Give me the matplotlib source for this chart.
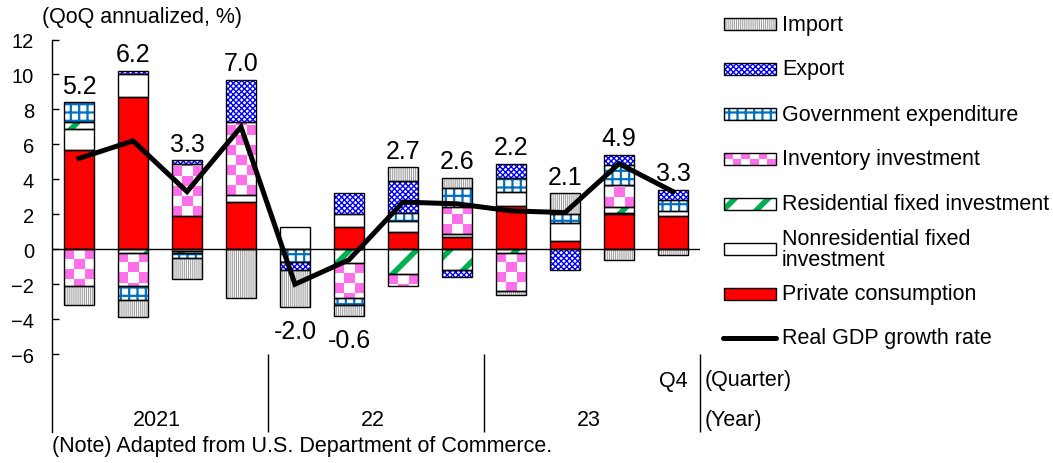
import numpy as np
import matplotlib
matplotlib.use("Agg")
import matplotlib.pyplot as plt
from matplotlib.patches import Rectangle

plt.rcParams["font.family"] = ["Liberation Sans", "DejaVu Sans"]

# contributions to real GDP growth, QoQ annualized (%), 2021Q1 - 2023Q4
years = ["2021", "22", "23"]
quarter_labels = ["", "", "", "", "", "", "", "", "", "", "", "Q4"]
consumption = [5.7, 8.7, 1.9, 2.7, 0.0, 1.3, 1.0, 0.7, 2.5, 0.5, 2.0, 1.9]
nonres_inv = [1.2, 1.3, -0.1, 0.4, 1.3, 0.7, 0.6, 0.2, 0.8, 1.0, 0.1, 0.3]
res_inv = [0.4, -0.2, -0.1, 0.0, 0.0, -0.8, -1.4, -1.2, -0.2, 0.0, 0.3, 0.0]
inventory = [-2.1, -1.9, 3.0, 4.2, 0.0, -2.0, -0.7, 1.5, -2.2, 0.0, 1.3, 0.0]
government = [1.1, -0.8, -0.3, 0.0, -0.7, -0.4, 0.5, 1.1, 0.8, 0.5, 1.1, 0.6]
exports = [0.0, 0.2, 0.2, 2.4, -0.5, 1.2, 1.8, -0.4, 0.8, -1.2, 0.6, 0.6]
imports = [-1.1, -1.0, -1.2, -2.8, -2.1, -0.6, 0.8, 0.6, -0.2, 1.2, -0.6, -0.3]
gdp = [5.2, 6.2, 3.3, 7.0, -2.0, -0.6, 2.7, 2.6, 2.2, 2.1, 4.9, 3.3]

PINK = "#ff6fe9"
FS = 15.5
styles = {
    "Private consumption": dict(face="#ff0000"),
    "Nonresidential fixed\ninvestment": dict(face="white"),
    "Residential fixed investment": dict(face="white", hatch="/", hc="#00b050", hlw=4.0),
    "Inventory investment": dict(face="white", checker=True),
    "Government expenditure": dict(face="white", hatch="++", hc="#0070c0", hlw=1.6),
    "Export": dict(face="white", hatch="xxxxxx", hc="#0000ff", hlw=1.0),
    "Import": dict(face="white", hatch="||||||||", hc="#a0a0a0", hlw=0.8),
}
series = [
    ("Private consumption", consumption),
    ("Nonresidential fixed\ninvestment", nonres_inv),
    ("Residential fixed investment", res_inv),
    ("Inventory investment", inventory),
    ("Government expenditure", government),
    ("Export", exports),
    ("Import", imports),
]


def set_hlw(patch, lw):
    if hasattr(patch, "set_hatch_linewidth"):
        patch.set_hatch_linewidth(lw)


def checker(axis, x0, x1, y0, y1, cw, ch, clip):
    ncol = max(1, int(round(abs(x1 - x0) / cw)))
    nrow = int(np.ceil(abs(y1 - y0) / ch)) + 1
    ii, jj = np.mgrid[0:nrow, 0:ncol]
    mask = (ii + jj) % 2 == 0
    rgb = np.ones((nrow, ncol, 3))
    rgb[mask] = matplotlib.colors.to_rgb(PINK)
    top = y0 + np.sign(y1 - y0) * nrow * ch
    im = axis.imshow(rgb, extent=(x0, x1, y0, top), origin="lower",
                     aspect="auto", interpolation="nearest", zorder=2.5)
    im.set_clip_path(clip)


W, H = 1053, 464
fig = plt.figure(figsize=(W / 100, H / 100), dpi=100)
ax = fig.add_axes([52 / W, 31 / H, 648 / W, 392.5 / H])

x = np.arange(len(gdp))
width = 0.57
pos_base = np.zeros(len(x))
neg_base = np.zeros(len(x))

for name, vals in series:
    v = np.array(vals, dtype=float)
    st = styles[name]
    bottom = np.where(v >= 0, pos_base, neg_base)
    keep = v != 0
    xs, hs, bs = x[keep], v[keep], bottom[keep]
    if "hatch" in st:
        bars = ax.bar(xs, hs, width, bottom=bs, color=st["face"], edgecolor=st["hc"],
                      hatch=st["hatch"], linewidth=0, zorder=2)
        for p in bars:
            set_hlw(p, st["hlw"])
    else:
        bars = ax.bar(xs, hs, width, bottom=bs, color=st["face"], linewidth=0, zorder=2)
    if st.get("checker"):
        for xi, hi, bi, p in zip(xs, hs, bs, bars):
            checker(ax, xi - width / 2, xi + width / 2, bi, bi + hi, width / 3, 0.57, p)
    ax.bar(xs, hs, width, bottom=bs, fill=False, edgecolor="black", linewidth=1.0, zorder=3)
    pos_base = pos_base + np.where(v > 0, v, 0)
    neg_base = neg_base + np.where(v < 0, v, 0)

ax.axhline(0, color="black", lw=1.0, zorder=3.5)
ax.plot(x, gdp, color="black", lw=3.6, solid_joinstyle="miter", zorder=5)

for xi, g, hi, lo in zip(x, gdp, pos_base, neg_base):
    if g >= 0:
        ax.text(xi, hi + 0.55, f"{g:.1f}", ha="center", va="baseline", fontsize=18, zorder=6)
    else:
        ax.text(xi, lo - 0.7, f"{g:.1f}", ha="center", va="top", fontsize=18, zorder=6)

ax.set_xlim(-0.5, len(x) - 0.5)
ax.set_ylim(-10.45, 12)
ax.set_yticks(np.arange(-6, 13, 2))
ax.set_xticks([])
ax.tick_params(axis="y", direction="in", length=5, width=1, labelsize=14.5, pad=13)
for side in ["top", "right", "bottom"]:
    ax.spines[side].set_visible(False)
ax.spines["left"].set_linewidth(1.0)

# two-level category axis below the plot
for xi, q in zip(x, quarter_labels):
    if q:
        ax.text(xi, -7.5, q, ha="center", va="center", fontsize=FS)
for k, yr in enumerate(years):
    ax.text(4 * k + 1.45, -9.75, yr, ha="center", va="center", fontsize=FS)
ax.vlines([3.5, 7.5, 11.5], -10.45, -6, color="black", lw=1.0, clip_on=False)

# overlay in pixel units for legend and free text
ov = fig.add_axes([0, 0, 1, 1])
ov.set_zorder(10)
ov.axis("off")

legend_order = ["Import", "Export", "Government expenditure", "Inventory investment",
                "Residential fixed investment", "Nonresidential fixed\ninvestment",
                "Private consumption"]
for k, name in enumerate(legend_order):
    st = styles[name]
    yc = 25 + 45 * k
    x0, x1, y0, y1 = 724, 776, yc - 6, yc + 6
    if "hatch" in st:
        r = Rectangle((x0, y0), x1 - x0, y1 - y0, facecolor=st["face"], edgecolor=st["hc"],
                      hatch=st["hatch"], linewidth=0)
        set_hlw(r, st["hlw"])
    else:
        r = Rectangle((x0, y0), x1 - x0, y1 - y0, facecolor=st["face"], linewidth=0)
    ov.add_patch(r)
    if st.get("checker"):
        checker(ov, x0, x1, y0, y1, 8, 6, r)
    ov.add_patch(Rectangle((x0, y0), x1 - x0, y1 - y0, fill=False, edgecolor="black",
                           linewidth=1.0, zorder=3))
    ov.text(782, yc, name, ha="left", va="center", fontsize=FS, linespacing=1.0)

ov.plot([723, 776], [339, 339], color="black", lw=3.6, solid_capstyle="round")
ov.text(782, 339, "Real GDP growth rate", ha="left", va="center", fontsize=FS)

ov.text(42, 17, "(QoQ annualized, %)", ha="left", va="center", fontsize=FS)
ov.text(705, 381, "(Quarter)", ha="left", va="center", fontsize=FS)
ov.text(705, 421, "(Year)", ha="left", va="center", fontsize=FS)
ov.text(52, 447, "(Note) Adapted from U.S. Department of Commerce.", ha="left",
        va="center", fontsize=FS)

ov.set_xlim(0, W)
ov.set_ylim(H, 0)

fig.savefig("out.png", dpi=100)
